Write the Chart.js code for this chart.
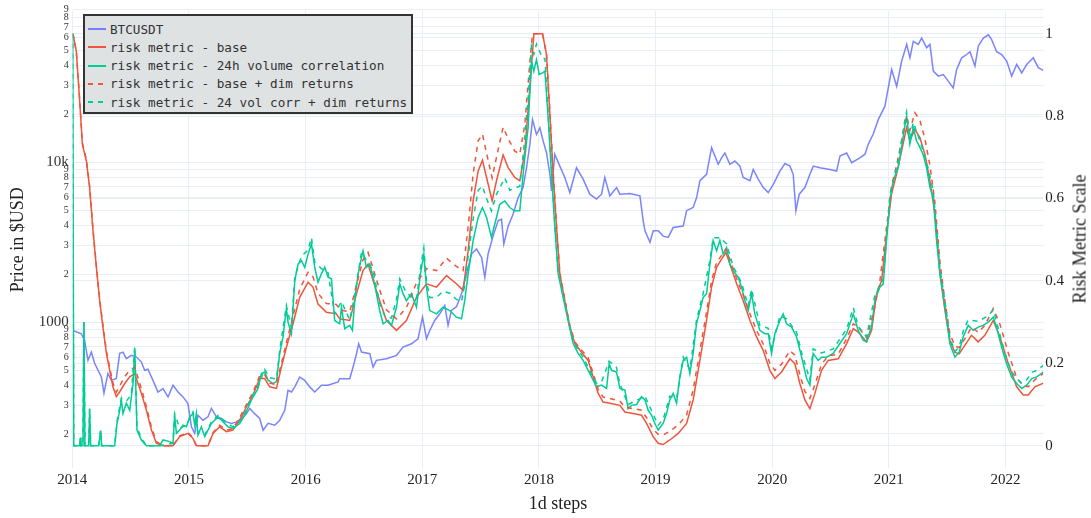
<!DOCTYPE html>
<html>
<head>
<meta charset="utf-8">
<script src="https://cdn.jsdelivr.net/npm/chart.js@4.4.0/dist/chart.umd.min.js"></script>
<style>
  body { margin: 0; background: #fff; }
  #wrap { position: relative; width: 1091px; height: 518px; }
  #legend {
    position: absolute; left: 83px; top: 14px; width: 326px; height: 96px;
    background: #dfe2e3; border: 2px solid #333; padding: 0;
    font-family: "DejaVu Sans Mono", monospace; font-size: 12.66px; color: #333;
  }
  .item { position: absolute; left: 3px; height: 18px; display: flex; align-items: center; white-space: pre; }
  .item svg { margin-right: 4px; }
  #rightTitle {
    position: absolute; left: 1080px; top: 239px; white-space: nowrap;
    transform: translate(-50%, -50%) rotate(-90deg);
    font-family: "Liberation Serif", "Times New Roman", serif; font-size: 18px; color: #222;
  }
</style>
</head>
<body>
<div id="wrap">
  <canvas id="chart" width="1091" height="518"></canvas>
  <div id="legend"></div>
  <div id="rightTitle">Risk Metric Scale</div>
</div>
<script>
// x values are fractional years
const yearTicks = [2014, 2015, 2016, 2017, 2018, 2019, 2020, 2021, 2022];
const priceTicks = [200, 300, 400, 500, 600, 700, 800, 900, 1000, 2000, 3000, 4000, 5000, 6000, 7000, 8000, 9000,
  10000, 20000, 30000, 40000, 50000, 60000, 70000, 80000, 90000];
const riskTicks = [0, 0.2, 0.4, 0.6, 0.8, 1];

// BTCUSDT price
const btcDates = [
  2014.005, 2014.077, 2014.105, 2014.134, 2014.163, 2014.191, 2014.249, 2014.271, 2014.305, 2014.334, 2014.377, 2014.406, 2014.434, 2014.463, 2014.506, 2014.549, 2014.592, 2014.620, 2014.648, 2014.691, 2014.734, 2014.777, 2014.820, 2014.863, 2014.906, 2014.949, 2014.991,
  2015.021, 2015.049, 2015.077, 2015.120, 2015.163, 2015.192, 2015.235, 2015.278, 2015.321, 2015.364, 2015.407, 2015.449, 2015.492, 2015.521, 2015.563, 2015.606, 2015.635, 2015.678, 2015.735, 2015.778, 2015.821, 2015.849, 2015.878, 2015.907, 2015.949, 2015.992,
  2016.035, 2016.078, 2016.136, 2016.192, 2016.278, 2016.292, 2016.378, 2016.407, 2016.436, 2016.455, 2016.479, 2016.550, 2016.578, 2016.607, 2016.693, 2016.779, 2016.835, 2016.907, 2016.964,
  2017.002, 2017.036, 2017.064, 2017.107, 2017.150, 2017.193, 2017.221, 2017.250, 2017.293, 2017.336, 2017.379, 2017.422, 2017.465, 2017.508, 2017.536, 2017.564, 2017.607, 2017.650, 2017.679, 2017.699, 2017.736, 2017.779, 2017.822, 2017.864, 2017.894, 2017.922, 2017.945, 2017.979,
  2018.008, 2018.036, 2018.065, 2018.094, 2018.108, 2018.136, 2018.179, 2018.222, 2018.265, 2018.322, 2018.379, 2018.436, 2018.494, 2018.537, 2018.565, 2018.608, 2018.666, 2018.694, 2018.780, 2018.866, 2018.894, 2018.909, 2018.952, 2018.980,
  2019.023, 2019.065, 2019.108, 2019.151, 2019.237, 2019.266, 2019.322, 2019.352, 2019.380, 2019.437, 2019.480, 2019.509, 2019.537, 2019.566, 2019.594, 2019.637, 2019.680, 2019.723, 2019.751, 2019.809, 2019.837, 2019.880, 2019.923, 2019.966,
  2020.008, 2020.066, 2020.109, 2020.152, 2020.180, 2020.203, 2020.232, 2020.280, 2020.323, 2020.352, 2020.409, 2020.495, 2020.552, 2020.581, 2020.638, 2020.681, 2020.752, 2020.795, 2020.823, 2020.866, 2020.909, 2020.966, 2020.995,
  2021.024, 2021.067, 2021.110, 2021.153, 2021.181, 2021.209, 2021.252, 2021.281, 2021.324, 2021.352, 2021.381, 2021.424, 2021.467, 2021.509, 2021.552, 2021.581, 2021.624, 2021.667, 2021.696, 2021.738, 2021.767, 2021.810, 2021.853, 2021.881, 2021.924, 2021.967,
  2022.010, 2022.053, 2022.096, 2022.139, 2022.182, 2022.238, 2022.281, 2022.324
];
const btcPrice = [
  887, 846, 769, 578, 650, 553, 454, 360, 478, 433, 445, 638, 650, 591, 620, 605, 563, 500, 508, 433, 366, 384, 341, 403, 366, 341, 310,
  222, 202, 262, 244, 256, 289, 256, 250, 238, 233, 238, 250, 268, 289, 268, 250, 211, 233, 227, 244, 281, 375, 366, 394, 454, 433,
  394, 366, 403, 403, 423, 443, 443, 524, 635, 733, 650, 635, 524, 577, 591, 620, 699, 733, 788,
  1074, 788, 887, 1025, 1128, 1271, 954, 1183, 1250, 1503, 2002, 2667, 2865, 2543, 1907, 2667, 3450, 4297, 4400, 3081, 3985, 4738, 6010, 6943, 9230, 12930, 18450, 14900,
  16400, 13590, 11460, 8400, 6620, 11200, 9450, 8020, 6460, 9230, 7840, 6310, 5880, 6310, 8020, 6160, 6940, 6310, 6370, 6160, 4297, 3722, 3156, 3722,
  3722, 3450, 3385, 3903, 3985, 4975, 5210, 6010, 7660, 8400, 12320, 10940, 9700, 10650, 11420, 9700, 10170, 9450, 8020, 7660, 9000, 7840, 6940, 6460,
  7250, 8800, 9800, 9450, 8400, 4975, 6310, 6940, 8400, 9450, 9230, 9000, 8800, 10940, 11400, 9940, 10650, 11220, 12930, 15000, 18450, 22400, 29100,
  38000, 29800, 42900, 54500, 44900, 56900, 54500, 59600, 52000, 54500, 37100, 34500, 35300, 32100, 29100, 38000, 44900, 47100, 49000, 39900, 53300, 59600, 62500, 58300, 49000, 47100,
  42900, 34500, 40800, 36100, 40800, 44900, 39000, 37500
];

// risk metric - base
const baseDates = [
  2014.005, 2014.034, 2014.063, 2014.086, 2014.120, 2014.148, 2014.177, 2014.206, 2014.234, 2014.262, 2014.292, 2014.320, 2014.348, 2014.377, 2014.406, 2014.449, 2014.492, 2014.535, 2014.563, 2014.592, 2014.635, 2014.678, 2014.720, 2014.777, 2014.863, 2014.920, 2014.991,
  2015.034, 2015.063, 2015.163, 2015.206, 2015.263, 2015.321, 2015.377, 2015.435, 2015.492, 2015.549, 2015.606, 2015.649, 2015.692, 2015.750, 2015.792, 2015.835, 2015.892, 2015.949,
  2016.021, 2016.063, 2016.106, 2016.178, 2016.264, 2016.292, 2016.378, 2016.436, 2016.492, 2016.535, 2016.578, 2016.635, 2016.693, 2016.779, 2016.864, 2016.950,
  2017.036, 2017.122, 2017.208, 2017.293, 2017.350, 2017.393, 2017.436, 2017.479, 2017.516, 2017.551, 2017.599, 2017.636, 2017.693, 2017.736, 2017.793, 2017.836, 2017.879, 2017.922, 2017.957,
  2018.031, 2018.065, 2018.094, 2018.122, 2018.151, 2018.179, 2018.222, 2018.265, 2018.308, 2018.365, 2018.422, 2018.465, 2018.508, 2018.550, 2018.608, 2018.694, 2018.737, 2018.808, 2018.880, 2018.923, 2018.979,
  2019.022, 2019.065, 2019.122, 2019.194, 2019.266, 2019.322, 2019.380, 2019.437, 2019.480, 2019.523, 2019.566, 2019.603, 2019.637, 2019.695, 2019.751, 2019.809, 2019.866, 2019.923, 2019.980,
  2020.023, 2020.080, 2020.152, 2020.194, 2020.237, 2020.280, 2020.323, 2020.366, 2020.423, 2020.480, 2020.566, 2020.638, 2020.695, 2020.737, 2020.809, 2020.852, 2020.895, 2020.938, 2020.980,
  2021.023, 2021.066, 2021.109, 2021.152, 2021.180, 2021.223, 2021.266, 2021.309, 2021.352, 2021.395, 2021.438, 2021.481, 2021.523, 2021.566, 2021.603, 2021.652, 2021.709, 2021.766, 2021.823, 2021.895, 2021.952,
  2022.024, 2022.096, 2022.152, 2022.195, 2022.252, 2022.324
];
const baseRisk = [
  1.0, 0.957, 0.836, 0.731, 0.691, 0.627, 0.522, 0.433, 0.352, 0.288, 0.224, 0.183, 0.143, 0.119, 0.131, 0.151, 0.167, 0.175, 0.151, 0.127, 0.086, 0.038, 0.006, 0, 0, 0.022, 0.030,
  0.018, 0, 0, 0.030, 0.046, 0.034, 0.038, 0.062, 0.094, 0.123, 0.163, 0.163, 0.143, 0.139, 0.191, 0.239, 0.296, 0.360,
  0.397, 0.385, 0.344, 0.324, 0.320, 0.308, 0.304, 0.369, 0.425, 0.441, 0.401, 0.352, 0.304, 0.280, 0.304, 0.360,
  0.393, 0.385, 0.413, 0.393, 0.377, 0.473, 0.594, 0.667, 0.693, 0.651, 0.594, 0.643, 0.706, 0.675, 0.651, 0.643, 0.715, 0.868, 1.0,
  1.0, 0.949, 0.804, 0.659, 0.530, 0.417, 0.352, 0.288, 0.248, 0.227, 0.207, 0.167, 0.127, 0.106, 0.103, 0.098, 0.082, 0.078, 0.074, 0.054, 0.022,
  0.006, 0.003, 0.014, 0.030, 0.054, 0.111, 0.207, 0.304, 0.385, 0.433, 0.453, 0.469, 0.441, 0.393, 0.352, 0.304, 0.264, 0.231, 0.183,
  0.163, 0.179, 0.211, 0.199, 0.151, 0.111, 0.090, 0.127, 0.183, 0.207, 0.211, 0.248, 0.284, 0.276, 0.252, 0.280, 0.369, 0.401, 0.514,
  0.611, 0.659, 0.715, 0.772, 0.740, 0.768, 0.748, 0.707, 0.643, 0.562, 0.417, 0.328, 0.256, 0.227, 0.223, 0.244, 0.268, 0.252, 0.268, 0.304, 0.264,
  0.199, 0.143, 0.123, 0.123, 0.143, 0.152
];

// risk metric - 24h volume correlation
const volDates = [
  2014.003, 2014.012, 2014.063, 2014.069, 2014.074, 2014.091, 2014.099, 2014.108, 2014.140, 2014.148, 2014.157, 2014.226, 2014.243, 2014.251, 2014.363, 2014.383, 2014.406, 2014.420, 2014.434, 2014.463, 2014.492, 2014.506, 2014.520, 2014.535, 2014.554, 2014.592, 2014.635, 2014.749, 2014.777, 2014.835, 2014.863, 2014.877, 2014.892, 2014.920, 2014.949, 2014.978,
  2015.006, 2015.034, 2015.049, 2015.063, 2015.077, 2015.106, 2015.135, 2015.163, 2015.192, 2015.220, 2015.249, 2015.278, 2015.306, 2015.334, 2015.377, 2015.435, 2015.478, 2015.535, 2015.592, 2015.621, 2015.649, 2015.678, 2015.720, 2015.750, 2015.778, 2015.806, 2015.835, 2015.849, 2015.878, 2015.907, 2015.935, 2015.964, 2015.992,
  2016.021, 2016.050, 2016.078, 2016.106, 2016.135, 2016.164, 2016.192, 2016.221, 2016.249, 2016.292, 2016.307, 2016.335, 2016.378, 2016.401, 2016.421, 2016.450, 2016.479, 2016.492, 2016.521, 2016.550, 2016.578, 2016.607, 2016.635, 2016.664, 2016.707, 2016.736, 2016.779, 2016.807, 2016.835, 2016.864, 2016.907, 2016.950, 2016.984,
  2017.013, 2017.036, 2017.064, 2017.122, 2017.178, 2017.236, 2017.293, 2017.336, 2017.364, 2017.393, 2017.436, 2017.479, 2017.516, 2017.551, 2017.593, 2017.636, 2017.664, 2017.707, 2017.750, 2017.793, 2017.836, 2017.870, 2017.907, 2017.936, 2017.956, 2017.979,
  2018.002, 2018.031, 2018.051, 2018.079, 2018.108, 2018.136, 2018.165, 2018.207, 2018.250, 2018.293, 2018.336, 2018.379, 2018.422, 2018.465, 2018.494, 2018.537, 2018.580, 2018.602, 2018.622, 2018.665, 2018.694, 2018.737, 2018.765, 2018.794, 2018.837, 2018.880, 2018.909, 2018.937, 2018.966, 2018.994,
  2019.022, 2019.065, 2019.094, 2019.122, 2019.151, 2019.180, 2019.208, 2019.237, 2019.266, 2019.294, 2019.322, 2019.351, 2019.380, 2019.408, 2019.437, 2019.466, 2019.494, 2019.523, 2019.551, 2019.580, 2019.609, 2019.637, 2019.665, 2019.708, 2019.737, 2019.766, 2019.794, 2019.823, 2019.851, 2019.894, 2019.937, 2019.966, 2019.994,
  2020.023, 2020.066, 2020.094, 2020.123, 2020.166, 2020.209, 2020.252, 2020.295, 2020.323, 2020.351, 2020.394, 2020.423, 2020.466, 2020.523, 2020.580, 2020.638, 2020.695, 2020.737, 2020.780, 2020.809, 2020.852, 2020.880, 2020.923, 2020.952, 2020.980,
  2021.009, 2021.037, 2021.080, 2021.109, 2021.137, 2021.152, 2021.180, 2021.209, 2021.237, 2021.266, 2021.294, 2021.323, 2021.352, 2021.380, 2021.409, 2021.438, 2021.481, 2021.523, 2021.566, 2021.603, 2021.637, 2021.680, 2021.723, 2021.766, 2021.809, 2021.852, 2021.895, 2021.923, 2021.966,
  2022.009, 2022.052, 2022.096, 2022.139, 2022.182, 2022.225, 2022.268, 2022.324
];
const volRisk = [
  1.0, 0, 0, 0.02, 0, 0, 0.30, 0, 0, 0.09, 0, 0, 0.036, 0, 0, 0.054, 0.086, 0.111, 0.078, 0.103, 0.086, 0.119, 0.151, 0.235, 0.038, 0.014, 0, 0, 0.014, 0.010, 0.005, 0.074, 0.030, 0.038, 0.050, 0.046,
  0.070, 0.078, 0.050, 0.078, 0.026, 0.046, 0.022, 0.038, 0.054, 0.062, 0.070, 0.062, 0.054, 0.046, 0.042, 0.054, 0.074, 0.111, 0.139, 0.175, 0.179, 0.159, 0.151, 0.155, 0.224, 0.264, 0.333, 0.300, 0.272, 0.401, 0.441, 0.449, 0.433,
  0.465, 0.490, 0.433, 0.397, 0.417, 0.433, 0.409, 0.405, 0.304, 0.296, 0.336, 0.284, 0.292, 0.280, 0.352, 0.417, 0.457, 0.473, 0.433, 0.441, 0.409, 0.369, 0.328, 0.296, 0.304, 0.292, 0.336, 0.393, 0.369, 0.352, 0.369, 0.336, 0.417,
  0.465, 0.385, 0.328, 0.320, 0.336, 0.328, 0.312, 0.308, 0.352, 0.417, 0.498, 0.554, 0.578, 0.554, 0.506, 0.554, 0.586, 0.594, 0.578, 0.570, 0.570, 0.675, 0.772, 0.933, 0.909, 0.937,
  0.901, 0.905, 0.909, 0.796, 0.659, 0.530, 0.417, 0.360, 0.304, 0.248, 0.224, 0.207, 0.183, 0.159, 0.143, 0.147, 0.139, 0.199, 0.183, 0.179, 0.139, 0.135, 0.090, 0.098, 0.100, 0.119, 0.111, 0.086, 0.074, 0.054,
  0.038, 0.054, 0.078, 0.111, 0.127, 0.103, 0.167, 0.207, 0.215, 0.175, 0.224, 0.296, 0.328, 0.360, 0.369, 0.441, 0.498, 0.473, 0.498, 0.465, 0.481, 0.441, 0.425, 0.409, 0.385, 0.352, 0.328, 0.369, 0.320, 0.280, 0.272, 0.272, 0.224,
  0.272, 0.304, 0.320, 0.296, 0.288, 0.264, 0.215, 0.163, 0.147, 0.224, 0.207, 0.215, 0.215, 0.224, 0.248, 0.272, 0.320, 0.280, 0.256, 0.252, 0.290, 0.352, 0.385, 0.393, 0.498,
  0.594, 0.643, 0.675, 0.724, 0.776, 0.800, 0.732, 0.772, 0.740, 0.724, 0.707, 0.675, 0.627, 0.603, 0.498, 0.417, 0.336, 0.248, 0.215, 0.227, 0.264, 0.292, 0.280, 0.288, 0.292, 0.300, 0.312, 0.288, 0.240,
  0.199, 0.167, 0.151, 0.139, 0.147, 0.163, 0.167, 0.179
];

// risk metric - base + dim returns
const baseDimDates = [
  2014.005, 2014.034, 2014.063, 2014.086, 2014.120, 2014.148, 2014.177, 2014.206, 2014.234, 2014.262, 2014.292, 2014.320, 2014.348, 2014.377, 2014.406, 2014.449, 2014.492, 2014.535, 2014.563, 2014.592, 2014.635, 2014.678, 2014.720, 2014.777, 2014.863, 2014.920, 2014.991,
  2015.034, 2015.063, 2015.163, 2015.206, 2015.263, 2015.321, 2015.377, 2015.435, 2015.492, 2015.549, 2015.606, 2015.649, 2015.692, 2015.750, 2015.792, 2015.835, 2015.892, 2015.949,
  2016.021, 2016.063, 2016.106, 2016.178, 2016.264, 2016.292, 2016.378, 2016.436, 2016.492, 2016.535, 2016.578, 2016.635, 2016.693, 2016.779, 2016.864, 2016.950,
  2017.036, 2017.122, 2017.208, 2017.293, 2017.350, 2017.393, 2017.436, 2017.479, 2017.516, 2017.551, 2017.599, 2017.636, 2017.693, 2017.736, 2017.793, 2017.836, 2017.879, 2017.922, 2017.945,
  2018.031, 2018.065, 2018.094, 2018.122, 2018.151, 2018.179, 2018.222, 2018.265, 2018.308, 2018.365, 2018.422, 2018.465, 2018.508, 2018.550, 2018.608, 2018.694, 2018.737, 2018.808, 2018.880, 2018.923, 2018.979,
  2019.022, 2019.065, 2019.122, 2019.194, 2019.266, 2019.322, 2019.380, 2019.437, 2019.480, 2019.523, 2019.566, 2019.603, 2019.637, 2019.695, 2019.751, 2019.809, 2019.866, 2019.923, 2019.980,
  2020.023, 2020.080, 2020.152, 2020.194, 2020.237, 2020.280, 2020.323, 2020.366, 2020.423, 2020.480, 2020.566, 2020.638, 2020.695, 2020.737, 2020.809, 2020.866, 2020.923, 2020.980,
  2021.023, 2021.066, 2021.109, 2021.152, 2021.180, 2021.223, 2021.266, 2021.309, 2021.352, 2021.395, 2021.438, 2021.481, 2021.523, 2021.566, 2021.603, 2021.652, 2021.709, 2021.766, 2021.823, 2021.895, 2021.952,
  2022.024, 2022.096, 2022.152, 2022.195, 2022.252, 2022.324
];
const baseDimRisk = [
  1.0, 0.957, 0.84, 0.735, 0.695, 0.63, 0.525, 0.437, 0.356, 0.293, 0.23, 0.19, 0.152, 0.13, 0.145, 0.168, 0.183, 0.19, 0.165, 0.138, 0.095, 0.045, 0.01, 0, 0, 0.024, 0.032,
  0.02, 0, 0, 0.032, 0.05, 0.038, 0.042, 0.068, 0.10, 0.13, 0.17, 0.172, 0.152, 0.148, 0.20, 0.25, 0.315, 0.38,
  0.421, 0.41, 0.37, 0.345, 0.343, 0.33, 0.325, 0.39, 0.452, 0.469, 0.43, 0.378, 0.33, 0.308, 0.335, 0.395,
  0.43, 0.425, 0.455, 0.435, 0.425, 0.53, 0.66, 0.74, 0.756, 0.71, 0.65, 0.70, 0.773, 0.745, 0.715, 0.708, 0.78, 0.93, 1.0,
  1.0, 0.95, 0.81, 0.665, 0.535, 0.42, 0.355, 0.292, 0.252, 0.232, 0.214, 0.176, 0.137, 0.118, 0.115, 0.108, 0.094, 0.09, 0.086, 0.068, 0.04,
  0.028, 0.026, 0.035, 0.05, 0.075, 0.135, 0.23, 0.325, 0.40, 0.445, 0.462, 0.477, 0.452, 0.405, 0.366, 0.32, 0.28, 0.247, 0.20,
  0.183, 0.198, 0.231, 0.22, 0.172, 0.132, 0.115, 0.148, 0.198, 0.218, 0.222, 0.26, 0.296, 0.288, 0.262, 0.32, 0.40, 0.53,
  0.63, 0.68, 0.74, 0.80, 0.765, 0.808, 0.79, 0.745, 0.68, 0.59, 0.445, 0.35, 0.272, 0.242, 0.238, 0.26, 0.288, 0.275, 0.292, 0.333, 0.295,
  0.225, 0.165, 0.145, 0.143, 0.16, 0.175
];

// risk metric - 24 vol corr + dim returns
const volDimDates = [
  2014.003, 2014.012, 2014.063, 2014.069, 2014.074, 2014.091, 2014.099, 2014.108, 2014.140, 2014.148, 2014.157, 2014.226, 2014.243, 2014.251, 2014.363, 2014.383, 2014.420, 2014.463, 2014.506, 2014.535, 2014.554, 2014.592, 2014.635, 2014.749, 2014.863, 2014.877, 2014.920, 2014.978,
  2015.034, 2015.077, 2015.135, 2015.192, 2015.249, 2015.306, 2015.377, 2015.435, 2015.478, 2015.535, 2015.592, 2015.649, 2015.692, 2015.750, 2015.778, 2015.835, 2015.878, 2015.907, 2015.964,
  2016.021, 2016.050, 2016.078, 2016.135, 2016.192, 2016.249, 2016.307, 2016.378, 2016.421, 2016.479, 2016.521, 2016.578, 2016.635, 2016.679, 2016.736, 2016.779, 2016.807, 2016.864, 2016.950, 2016.984,
  2017.013, 2017.036, 2017.064, 2017.122, 2017.178, 2017.236, 2017.293, 2017.336, 2017.364, 2017.393, 2017.436, 2017.479, 2017.516, 2017.551, 2017.593, 2017.636, 2017.707, 2017.750, 2017.836, 2017.870, 2017.907, 2017.936, 2017.956, 2017.979,
  2018.031, 2018.051, 2018.079, 2018.108, 2018.136, 2018.165, 2018.207, 2018.250, 2018.293, 2018.336, 2018.379, 2018.422, 2018.465, 2018.494, 2018.537, 2018.602, 2018.665, 2018.694, 2018.765, 2018.837, 2018.909, 2018.966,
  2019.022, 2019.065, 2019.122, 2019.180, 2019.237, 2019.294, 2019.351, 2019.408, 2019.466, 2019.494, 2019.551, 2019.609, 2019.665, 2019.737, 2019.794, 2019.823, 2019.894, 2019.966, 2019.994,
  2020.066, 2020.123, 2020.209, 2020.252, 2020.323, 2020.351, 2020.423, 2020.523, 2020.638, 2020.695, 2020.737, 2020.809, 2020.880, 2020.952,
  2021.009, 2021.080, 2021.137, 2021.152, 2021.180, 2021.209, 2021.266, 2021.323, 2021.380, 2021.438, 2021.481, 2021.523, 2021.566, 2021.603, 2021.637, 2021.680, 2021.766, 2021.852, 2021.895, 2021.966,
  2022.009, 2022.052, 2022.096, 2022.139, 2022.182, 2022.225, 2022.268, 2022.324
];
const volDimRisk = [
  1.0, 0, 0, 0.02, 0, 0, 0.30, 0, 0, 0.09, 0, 0, 0.04, 0, 0, 0.06, 0.115, 0.108, 0.125, 0.24, 0.045, 0.018, 0, 0, 0.006, 0.078, 0.042, 0.05,
  0.082, 0.03, 0.026, 0.058, 0.074, 0.058, 0.046, 0.058, 0.08, 0.118, 0.145, 0.185, 0.165, 0.162, 0.232, 0.34, 0.285, 0.41, 0.46,
  0.475, 0.505, 0.445, 0.43, 0.42, 0.32, 0.35, 0.305, 0.365, 0.47, 0.45, 0.425, 0.345, 0.315, 0.31, 0.355, 0.405, 0.37, 0.355, 0.43,
  0.48, 0.40, 0.36, 0.36, 0.375, 0.37, 0.355, 0.35, 0.39, 0.46, 0.55, 0.62, 0.63, 0.60, 0.57, 0.61, 0.65, 0.62, 0.63, 0.72, 0.84, 0.97, 0.95, 0.975,
  0.94, 0.94, 0.81, 0.67, 0.54, 0.425, 0.367, 0.31, 0.255, 0.232, 0.215, 0.19, 0.166, 0.152, 0.155, 0.205, 0.19, 0.15, 0.10, 0.11, 0.12, 0.085,
  0.05, 0.064, 0.12, 0.115, 0.215, 0.185, 0.305, 0.37, 0.45, 0.505, 0.505, 0.49, 0.435, 0.395, 0.34, 0.38, 0.292, 0.285, 0.236,
  0.315, 0.308, 0.275, 0.226, 0.16, 0.235, 0.225, 0.235, 0.283, 0.335, 0.29, 0.264, 0.365, 0.405,
  0.61, 0.69, 0.79, 0.81, 0.745, 0.785, 0.74, 0.69, 0.62, 0.43, 0.35, 0.262, 0.228, 0.24, 0.278, 0.305, 0.302, 0.315, 0.33, 0.255,
  0.212, 0.18, 0.163, 0.152, 0.16, 0.178, 0.183, 0.195
];

const blue = 'rgba(99, 110, 250, 0.85)';
const red = '#ef553b';
const green = '#00cc96';
const gridColor = '#e9eef6';
const serif = '"Liberation Serif", "Times New Roman", serif';

function pts(dates, values) {
  return dates.map((d, i) => ({ x: d, y: values[i] }));
}

const datasets = [
  { label: 'BTCUSDT', data: pts(btcDates, btcPrice), yAxisID: 'y', borderColor: blue, order: 5 },
  { label: 'risk metric - base', data: pts(baseDates, baseRisk), yAxisID: 'y1', borderColor: red, order: 4 },
  { label: 'risk metric - 24h volume correlation', data: pts(volDates, volRisk), yAxisID: 'y1', borderColor: green, order: 3 },
  { label: 'risk metric - base + dim returns', data: pts(baseDimDates, baseDimRisk), yAxisID: 'y1', borderColor: red, borderDash: [5, 5], order: 2 },
  { label: 'risk metric - 24 vol corr + dim returns', data: pts(volDimDates, volDimRisk), yAxisID: 'y1', borderColor: green, borderDash: [5, 5], order: 1 }
];
datasets.forEach(ds => { ds.borderWidth = 1.5; ds.pointRadius = 0; ds.fill = false; ds.tension = 0; });

const chart = new Chart(document.getElementById('chart'), {
  type: 'line',
  data: { datasets },
  options: {
    responsive: false,
    animation: false,
    devicePixelRatio: 1,
    layout: { autoPadding: false, padding: { top: 9.6, left: 0, right: 0, bottom: 0 } },
    plugins: { legend: { display: false }, tooltip: { enabled: false } },
    scales: {
      x: {
        type: 'linear',
        min: 2014.003,
        max: 2022.324,
        afterBuildTicks: s => { s.ticks = yearTicks.map(v => ({ value: v })); },
        afterFit: s => { s.height = 49.6; },
        grid: { color: gridColor, drawTicks: false },
        border: { display: false },
        ticks: { autoSkip: false, maxRotation: 0, padding: 3, color: '#222',
          font: { family: serif, size: 15 }, callback: v => String(v) },
        title: { display: true, text: '1d steps', color: '#222',
          font: { family: serif, size: 18 }, padding: { top: 0, bottom: 3.2 } }
      },
      y: {
        type: 'logarithmic',
        position: 'left',
        min: 121.9,
        max: 88100,
        afterBuildTicks: s => { s.ticks = priceTicks.map(v => ({ value: v })); },
        afterFit: s => { s.width = 72.7; },
        grid: { color: gridColor, drawTicks: false },
        border: { display: false },
        ticks: {
          autoSkip: false, padding: 4, color: '#333',
          font: ctx => {
            const v = ctx.tick ? ctx.tick.value : 0;
            return { family: serif, size: (v === 1000 || v === 10000) ? 15 : 10, lineHeight: 1 };
          },
          callback: v => {
            if (v === 1000) return '1000';
            if (v === 10000) return '10k';
            return String(Math.round(v / Math.pow(10, Math.floor(Math.log10(v)))));
          }
        },
        title: { display: true, text: 'Price in $USD', color: '#222',
          font: { family: serif, size: 18 }, padding: { top: 7, bottom: 0 } }
      },
      y1: {
        type: 'linear',
        position: 'right',
        min: -0.055,
        max: 1.055,
        afterBuildTicks: s => { s.ticks = riskTicks.map(v => ({ value: v })); },
        afterFit: s => { s.width = 47.7; },
        grid: { color: gridColor, drawTicks: false },
        border: { display: false },
        ticks: { autoSkip: false, padding: 2, color: '#222',
          font: { family: serif, size: 15 }, callback: v => String(Math.round(v * 10) / 10) },
        // the title reads bottom-to-top here, so it is an html label (#rightTitle)
        title: { display: false }
      }
    }
  }
});

// legend box drawn over the top-left of the plot, built from the datasets
const legend = document.getElementById('legend');
chart.data.datasets.forEach((ds, i) => {
  const row = document.createElement('div');
  row.className = 'item';
  row.style.top = (4.2 + i * 18.2) + 'px';
  const dash = ds.borderDash ? 'stroke-dasharray="5,5"' : '';
  row.innerHTML = '<svg width="18" height="4"><line x1="0" y1="2" x2="18" y2="2" stroke="' + ds.borderColor +
    '" stroke-width="2" ' + dash + '/></svg>' + ds.label;
  legend.appendChild(row);
});
</script>
</body>
</html>
